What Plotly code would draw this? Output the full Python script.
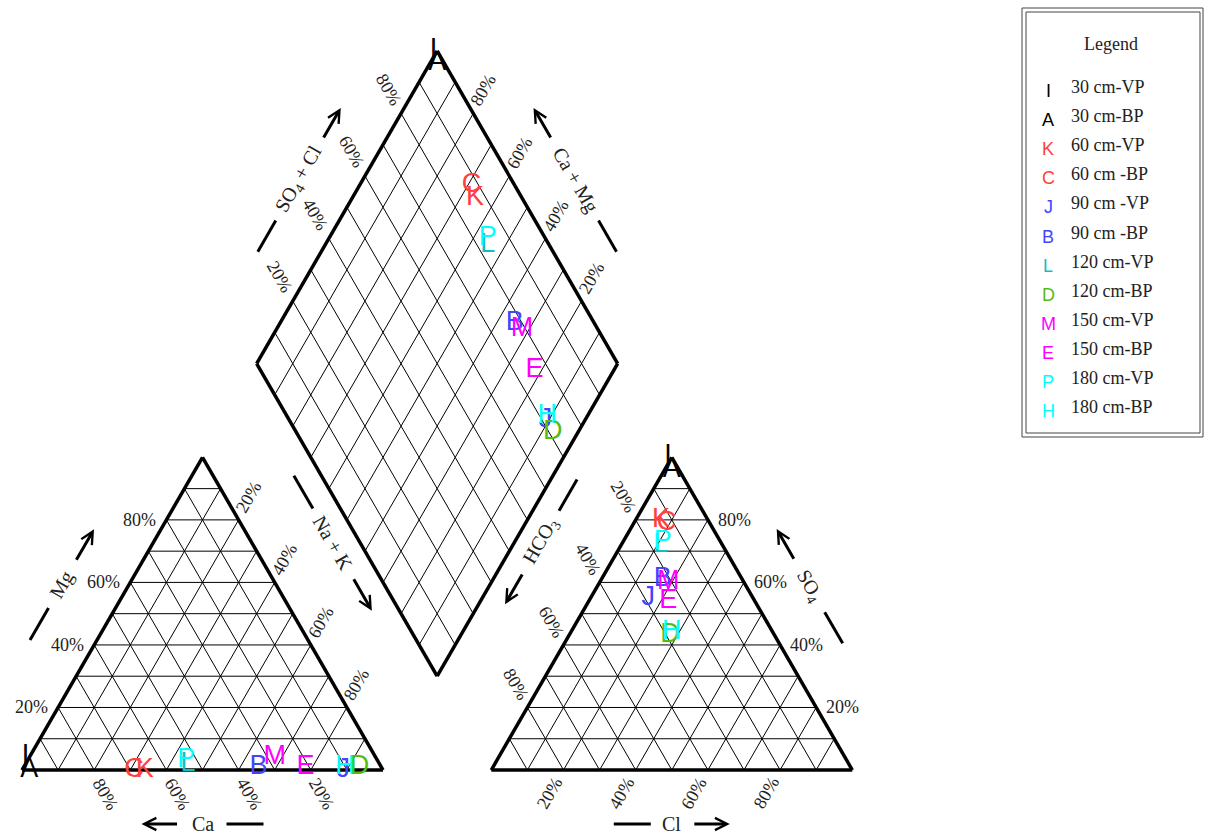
import numpy as np
import plotly.graph_objects as go

# sample labels / legend text / colours
LABELS = ["I", "A", "K", "C", "J", "B", "L", "D", "M", "E", "P", "H"]
NAMES = ["30 cm-VP", "30 cm-BP", "60 cm-VP", "60 cm -BP", "90 cm -VP", "90 cm -BP",
         "120 cm-VP", "120 cm-BP", "150 cm-VP", "150 cm-BP", "180 cm-VP", "180 cm-BP"]
COLORS = ["#000000", "#000000", "#FF4040", "#FF4040", "#4444FF", "#4444FF",
          "#10BFBF", "#55BB11", "#FF00FF", "#FF00FF", "#00FFFF", "#00FFFF"]

# cations (% meq/L)
CA = [98, 98, 66, 69, 11, 34, 53, 6, 28, 21, 53, 10]
MG = [0, 0, 0, 0, 0, 1, 2, 1, 4, 1, 3, 1]
NAK = [2, 2, 34, 31, 89, 65, 45, 93, 68, 78, 44, 89]

# anions (% meq/L)
HCO3 = [2, 2, 13, 12, 29, 22, 17, 29, 21, 24, 16, 28]
SO4 = [96, 96, 80, 79, 55, 61, 72, 43, 60, 54, 73, 44]
CL = [2, 2, 7, 9, 16, 17, 11, 28, 19, 22, 11, 28]

TICKS = [20, 40, 60, 80]

W, HT = 1213, 840
PX = 361.0            # pixels per triangle side
X0, Y0 = 22, 770      # pixel position of the cation triangle's left corner
H = np.sqrt(3) / 2
GAP = 0.3
RX = 1 + GAP
BX, BY = 1 + GAP / 2, GAP * H   # diamond bottom vertex

SERIF = "Liberation Serif, Times New Roman, serif"
SANS = "Liberation Sans, Arial, sans-serif"


def cation_xy(ca, mg, nak):
    t = ca + mg + nak
    return nak / t + mg / t / 2, mg / t * H


def anion_xy(hco3, so4, cl):
    t = hco3 + so4 + cl
    return RX + cl / t + so4 / t / 2, so4 / t * H


def diamond_xy(a, c):
    return BX + (a - c) / 2, BY + (a + c) * H


def add_lines(fig, segs, width, color="black"):
    xs, ys = [], []
    for (x0, y0), (x1, y1) in segs:
        xs += [x0, x1, None]
        ys += [y0, y1, None]
    fig.add_trace(go.Scatter(x=xs, y=ys, mode="lines", hoverinfo="skip",
                             line=dict(color=color, width=width)))


def triangle_grid(ox):
    segs = []
    for i in range(1, 10):
        f = i / 10
        segs.append(((ox + f / 2, f * H), (ox + 1 - f / 2, f * H)))
        segs.append(((ox + 1 - f, 0), (ox + (1 - f) / 2, (1 - f) * H)))
        segs.append(((ox + f, 0), (ox + f + (1 - f) / 2, (1 - f) * H)))
    return segs


def diamond_grid():
    segs = []
    for i in range(1, 10):
        f = i / 10
        segs.append((diamond_xy(f, 0), diamond_xy(f, 1)))
        segs.append((diamond_xy(0, f), diamond_xy(1, f)))
    return segs


fig = go.Figure()

# grids
add_lines(fig, triangle_grid(0) + triangle_grid(RX) + diamond_grid(), 1)

# outlines
outline = [((0, 0), (1, 0)), ((1, 0), (0.5, H)), ((0.5, H), (0, 0)),
           ((RX, 0), (RX + 1, 0)), ((RX + 1, 0), (RX + 0.5, H)), ((RX + 0.5, H), (RX, 0)),
           (diamond_xy(0, 0), diamond_xy(1, 0)), (diamond_xy(1, 0), diamond_xy(1, 1)),
           (diamond_xy(1, 1), diamond_xy(0, 1)), (diamond_xy(0, 1), diamond_xy(0, 0))]
add_lines(fig, outline, 3.5)

annotations = []


def tick(x, y, text, dx, dy, angle=0, xanchor="center"):
    annotations.append(dict(x=x, y=y, text=text, showarrow=False, xshift=dx, yshift=dy,
                            textangle=angle, xanchor=xanchor, yanchor="middle",
                            font=dict(family=SERIF, size=18, color="#222222")))


for t in TICKS:
    f = t / 100
    s = f"{t}%"
    tick(1 - f, 0, s, 11, -24, 60)                      # Ca
    tick(f / 2, f * H, s, -8, 0, 0, "right")             # Mg
    tick(0.5 + f / 2, (1 - f) * H, s, 10, 23, -60)       # Na + K
    tick(RX + f, 0, s, -14, -23, -60)                    # Cl
    tick(RX + 1 - f / 2, f * H, s, 8, 0, 0, "left")      # SO4
    tick(RX + (1 - f) / 2, (1 - f) * H, s, -12, 23, 60)  # HCO3
    x, y = diamond_xy(f, 1)
    tick(x, y, s, -13, 24, 60)                           # SO4 + Cl
    x, y = diamond_xy(1, f)
    tick(x, y, s, 10, 23, -60)                           # Ca + Mg


def edge_title(p0, p1, text, side, out, along, inner, outer, angle):
    p0, p1 = np.array(p0, float), np.array(p1, float)
    d = (p1 - p0) / np.linalg.norm(p1 - p0)
    n = np.array([-d[1], d[0]]) * side
    c = (p0 + p1) / 2 + (out * n + along * d) / PX
    annotations.append(dict(x=c[0], y=c[1], text=text, showarrow=False, textangle=angle,
                            xanchor="center", yanchor="middle",
                            font=dict(family=SERIF, size=20, color="#222222")))
    head = c + outer * d / PX
    tail = c + inner * d / PX
    annotations.append(dict(x=head[0], y=head[1], ax=tail[0], ay=tail[1], xref="x", yref="y",
                            axref="x", ayref="y", text="", showarrow=True, arrowhead=5,
                            arrowsize=0.8, arrowwidth=3, arrowcolor="black", standoff=0))
    return (tuple(c - inner * d / PX), tuple(c - outer * d / PX))


title_segs = [
    edge_title((1, 0), (0, 0), "Ca", 1, 54, 0, 24, 61, 0),
    edge_title((0, 0), (0.5, H), "Mg", 1, 58, 0, 27, 64, -60),
    edge_title((0.5, H), (1, 0), "Na + K", 1, 70, -41, 40, 78, 60),
    edge_title((RX, 0), (RX + 1, 0), "Cl", -1, 54, 0, 21, 58, 0),
    edge_title((RX + 1, 0), (RX + 0.5, H), "SO<sub>4</sub>", -1, 55, 0, 30, 66, 60),
    edge_title((RX + 0.5, H), (RX, 0), "HCO<sub>3</sub>", -1, 71, -42, 36, 72, -60),
    edge_title(diamond_xy(0, 1), diamond_xy(1, 1), "SO<sub>4</sub> + Cl", 1, 55, 0, 47, 83, -60),
    edge_title(diamond_xy(1, 0), diamond_xy(1, 1), "Ca + Mg", -1, 55, 0, 47, 83, 60),
]
add_lines(fig, title_segs, 3)

# sample points: cation triangle, anion triangle, diamond
for lab, name, col, ca, mg, nak, hco3, so4, cl in zip(LABELS, NAMES, COLORS, CA, MG, NAK,
                                                      HCO3, SO4, CL):
    cx, cy = cation_xy(ca, mg, nak)
    axx, ayy = anion_xy(hco3, so4, cl)
    dx, dy = diamond_xy((so4 + cl) / (hco3 + so4 + cl), (ca + mg) / (ca + mg + nak))
    fig.add_trace(go.Scatter(
        x=[cx, axx, dx], y=[cy, ayy, dy], mode="text", text=[lab] * 3, name=name,
        textposition="top left" if lab == "I" else "middle center",
        textfont=dict(family=SANS, size=27, color=col), hoverinfo="name"))


# legend box
def px(x):
    return x / W


def py(y):
    return 1 - y / HT


shapes = [
    dict(type="rect", xref="paper", yref="paper", x0=px(1022), x1=px(1203), y0=py(8), y1=py(437),
         line=dict(color="#444444", width=1)),
    dict(type="rect", xref="paper", yref="paper", x0=px(1026), x1=px(1200), y0=py(12), y1=py(433),
         line=dict(color="#444444", width=1)),
]
annotations.append(dict(xref="paper", yref="paper", x=px(1111), y=py(44), text="Legend",
                        xanchor="center", yanchor="middle", showarrow=False,
                        font=dict(family=SERIF, size=18, color="#222222")))
for i, (lab, name, col) in enumerate(zip(LABELS, NAMES, COLORS)):
    yy = 87 + 29.1 * i
    annotations.append(dict(xref="paper", yref="paper", x=px(1048), y=py(yy + 4), text=lab,
                            xanchor="center", yanchor="middle", showarrow=False,
                            font=dict(family=SANS, size=18, color=col)))
    annotations.append(dict(xref="paper", yref="paper", x=px(1069), y=py(yy), text=name,
                            xanchor="left", yanchor="middle", showarrow=False,
                            font=dict(family=SERIF, size=18, color="#222222")))

fig.update_layout(
    width=W, height=HT,
    margin=dict(l=0, r=0, t=0, b=0),
    paper_bgcolor="white", plot_bgcolor="white",
    showlegend=False,
    xaxis=dict(range=[-X0 / PX, (W - X0) / PX], visible=False, fixedrange=True),
    yaxis=dict(range=[(Y0 - HT) / PX, Y0 / PX], visible=False, fixedrange=True),
    annotations=annotations,
    shapes=shapes,
)

fig.write_html("out.html", config={"displayModeBar": False},
               post_script="document.body.style.margin = '0';")
